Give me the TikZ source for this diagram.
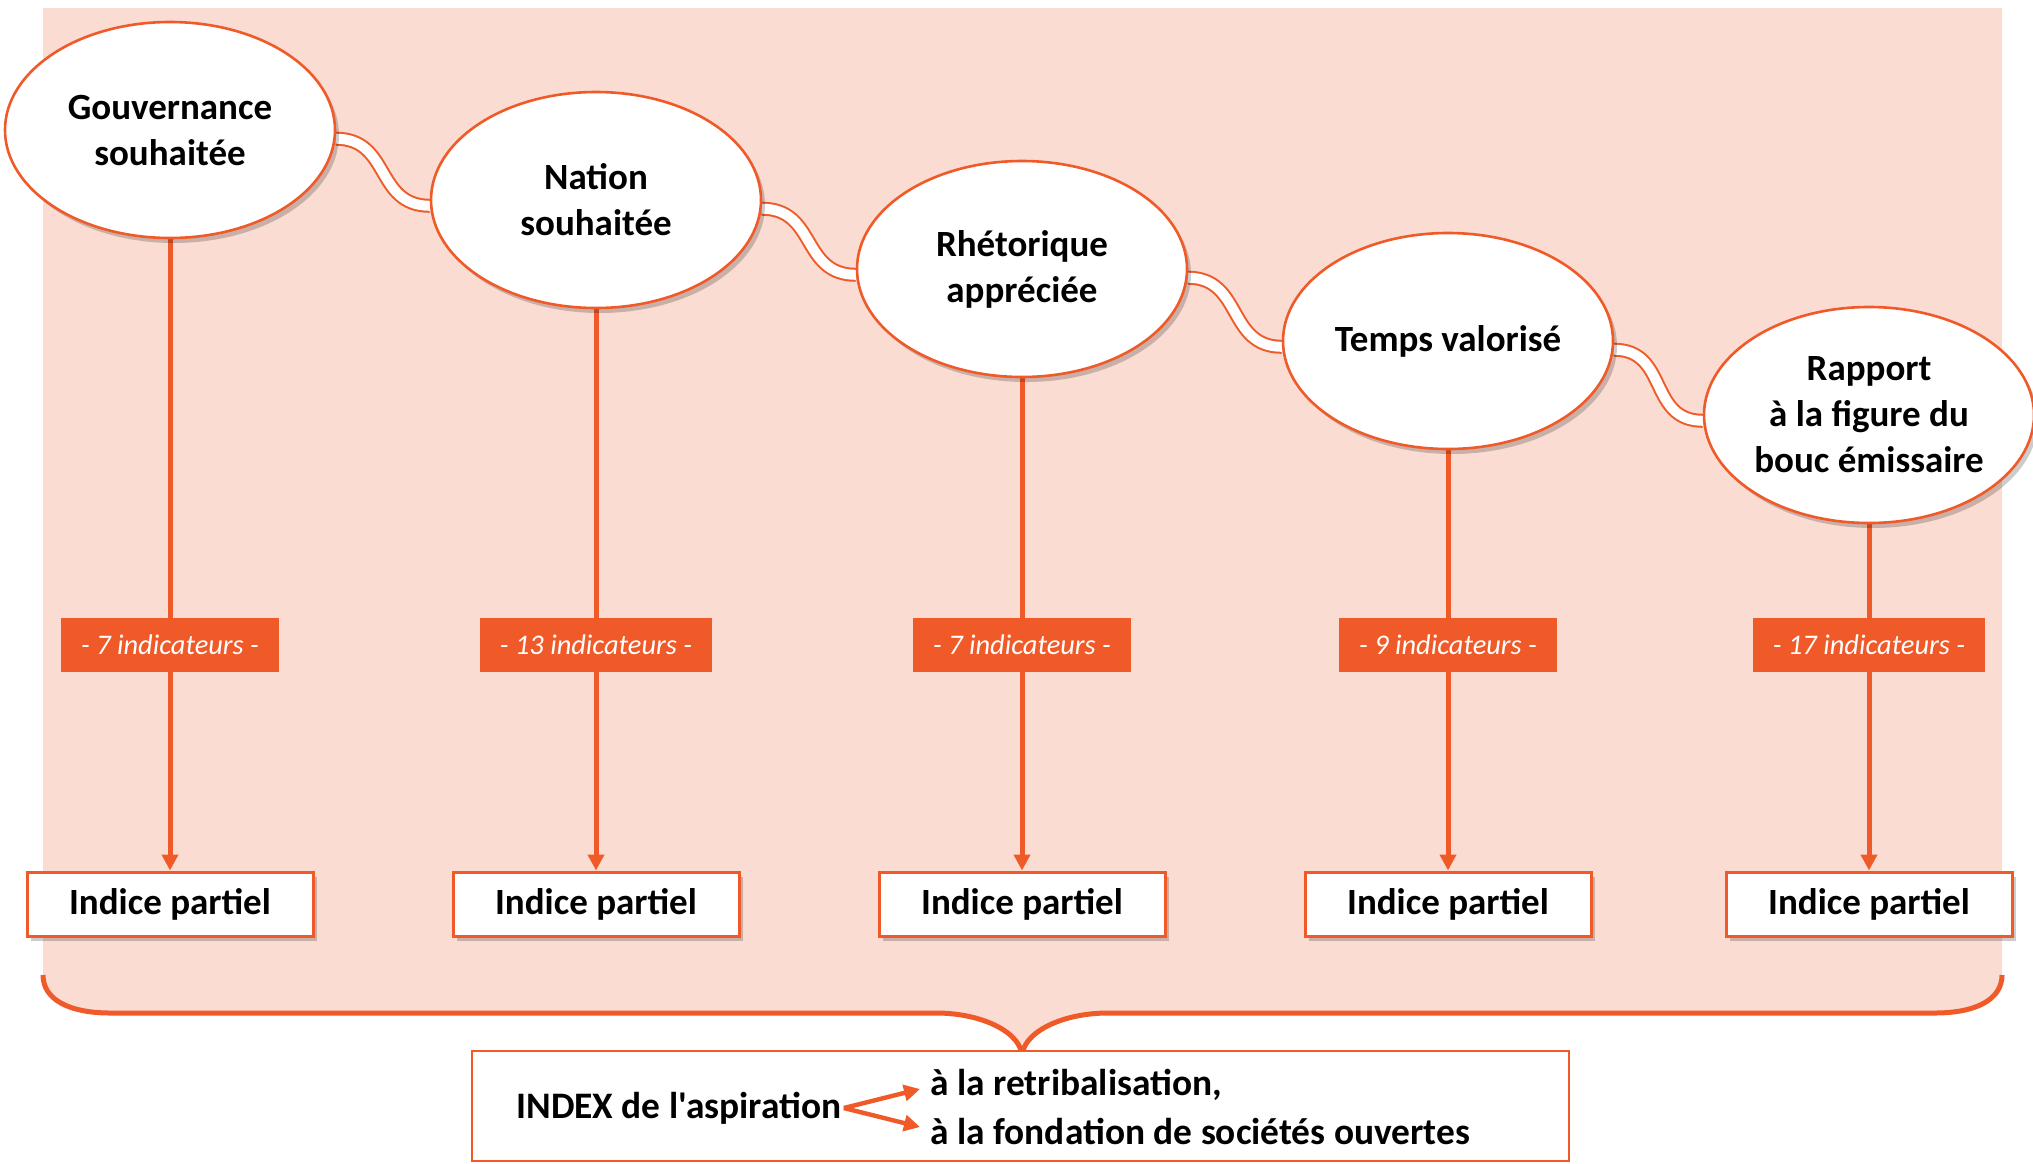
\documentclass[tikz,border=0pt]{standalone}
\usepackage{fontspec}
\setmainfont{Carlito}[Ligatures=TeXOff]
\usetikzlibrary{shapes.geometric,arrows.meta,shadows}
\definecolor{org}{RGB}{240,90,40}
\definecolor{bgpink}{RGB}{250,220,211}
\pgfdeclarelayer{bg}
\pgfdeclarelayer{back}
\pgfsetlayers{bg,back,main}
\begin{document}
\begin{tikzpicture}[x=0.5pt,y=-0.5pt,
  shd/.style={drop shadow={shadow xshift=2pt,shadow yshift=-2.5pt,opacity=0.2,fill=black}},
  ell/.style={ellipse, draw=org, line width=1.3pt, fill=white, minimum width=165pt,
    minimum height=108pt, inner sep=0pt, align=center,
    font=\fontsize{18.5}{23}\selectfont\bfseries, shd},
  ind/.style={fill=org, text=white, font=\fontsize{14.2}{16}\selectfont\itshape,
    minimum height=27pt, inner xsep=10pt, inner ysep=0pt},
  part/.style={draw=org, line width=1.5pt, fill=white, minimum width=143pt,
    minimum height=32pt, inner sep=0pt, font=\fontsize{18.5}{22}\selectfont\bfseries, shd},
  conn/.style={draw=org, line width=1pt, double=white, double distance=5pt},
  vline/.style={draw=org, line width=2.5pt, -{Triangle[length=8pt,width=8pt]}},
  sarr/.style={draw=org, line width=2.2pt, -{Triangle[length=8pt,width=8pt]}},
  btxt/.style={font=\fontsize{18.7}{22}\selectfont\bfseries, inner sep=0pt},
]
\useasboundingbox (0,0) rectangle (2033,1163);

% background and brace
\begin{pgfonlayer}{bg}
\fill[bgpink] (43,8) -- (43,975) .. controls (43,1000) and (70,1013) .. (110,1013)
  -- (936,1013) .. controls (983,1013) and (1022,1033) .. (1022,1057)
  .. controls (1022,1033) and (1061,1013) .. (1108,1013)
  -- (1935,1013) .. controls (1975,1013) and (2002,1000) .. (2002,975)
  -- (2002,8) -- cycle;
\draw[org, line width=2.5pt] (43,975) .. controls (43,1000) and (70,1013) .. (110,1013)
  -- (936,1013) .. controls (983,1013) and (1022,1033) .. (1022,1057)
  .. controls (1022,1033) and (1061,1013) .. (1108,1013)
  -- (1935,1013) .. controls (1975,1013) and (2002,1000) .. (2002,975);
\end{pgfonlayer}

% ellipses
\node[ell] (e1) at (170,130) {Gouvernance\\souhaitée};
\node[ell] (e2) at (596,200) {Nation\\souhaitée};
\node[ell] (e3) at (1022,269) {Rhétorique\\appréciée};
\node[ell] (e4) at (1448,341) {Temps valorisé};
\node[ell] (e5) at (1869,415) {Rapport\\à la figure du\\bouc émissaire};

% indicator labels
\node[ind] (l1) at (170,645) {- 7 indicateurs -};
\node[ind] (l2) at (596,645) {- 13 indicateurs -};
\node[ind] (l3) at (1022,645) {- 7 indicateurs -};
\node[ind] (l4) at (1448,645) {- 9 indicateurs -};
\node[ind] (l5) at (1869,645) {- 17 indicateurs -};

% partial index boxes
\node[part] (b1) at (170,904) {Indice partiel};
\node[part] (b2) at (596,904) {Indice partiel};
\node[part] (b3) at (1022,904) {Indice partiel};
\node[part] (b4) at (1448,904) {Indice partiel};
\node[part] (b5) at (1869,904) {Indice partiel};

% connectors
\begin{pgfonlayer}{back}
\draw[conn] (e1.-3) .. controls +(55,0) and +(-55,0) .. (e2.182);
\draw[conn] (e2.-3) .. controls +(55,0) and +(-55,0) .. (e3.182);
\draw[conn] (e3.-3) .. controls +(55,0) and +(-55,0) .. (e4.182);
\draw[conn] (e4.-3) .. controls +(55,0) and +(-55,0) .. (e5.182);
\draw[vline] (e1.south) -- (b1.north);
\draw[vline] (e2.south) -- (b2.north);
\draw[vline] (e3.south) -- (b3.north);
\draw[vline] (e4.south) -- (b4.north);
\draw[vline] (e5.south) -- (b5.north);
\end{pgfonlayer}

% bottom index box
\node[draw=org, line width=1pt, fill=white, minimum width=548.5pt, minimum height=55pt,
  inner sep=0pt] (ix) at (1020.5,1106) {};
\node[btxt, anchor=west] (idx) at (516,1108) {INDEX de l'aspiration};
\node[btxt, anchor=west] (r1) at (930,1085) {à la retribalisation,};
\node[btxt, anchor=west] (r2) at (930,1131) {à la fondation de sociétés ouvertes};
\coordinate (sp) at ([xshift=1pt]idx.east);
\draw[sarr] (sp) -- ([xshift=-5pt,yshift=-2pt]r1.west);
\draw[sarr] (sp) -- ([xshift=-5pt,yshift=2pt]r2.west);
\end{tikzpicture}
\end{document}
